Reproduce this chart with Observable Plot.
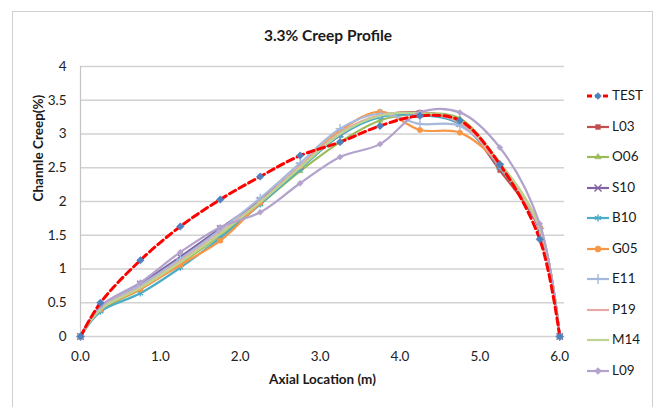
<!DOCTYPE html>
<html>
<head>
<meta charset="utf-8">
<script src="https://cdn.jsdelivr.net/npm/d3@7"></script>
<script src="https://cdn.jsdelivr.net/npm/@observablehq/plot@0.6"></script>
<style>
  html, body { margin: 0; padding: 0; background: #fff; }
  #wrap { position: relative; width: 656px; height: 407px; font-family: Lato, "Open Sans", sans-serif; overflow: hidden; }
  #frame { position: absolute; left: 12px; top: 11px; width: 639px; height: 400px; border-left: 1px solid #d0d0d0; border-top: 1px solid #d0d0d0; border-right: 1px solid #d0d0d0; }
  #title { position: absolute; left: 0; width: 656px; top: 26px; text-align: center; font-size: 15.5px; font-weight: bold; color: #1a1a1a; }
  #legend { position: absolute; left: 586px; top: 87px; font-size: 13.5px; color: #1a1a1a; }
  .li { height: 30.5px; display: flex; align-items: flex-start; }
  .li svg { margin-top: 2px; margin-right: 2px; }
  #plot { position: absolute; left: 0; top: 0; }
</style>
</head>
<body>
<div id="wrap">
  <div id="frame"></div>
  <div id="plot"></div>
  <div id="title">3.3% Creep Profile</div>
  <div id="legend"></div>
</div>
<script>
// Axial positions (m)
const axial = [0, 0.25, 0.75, 1.25, 1.75, 2.25, 2.75, 3.25, 3.75, 4.25, 4.75, 5.25, 5.75, 6.0];

// Series names
const seriesNames = ["TEST", "L03", "O06", "S10", "B10", "G05", "E11", "P19", "M14", "L09"];

// Channel creep (%) per series
const TEST = [0, 0.50, 1.13, 1.63, 2.03, 2.37, 2.68, 2.88, 3.12, 3.27, 3.20, 2.55, 1.44, 0];
const L03  = [0, 0.40, 0.72, 1.10, 1.52, 1.98, 2.50, 2.98, 3.27, 3.32, 3.18, 2.46, 1.58, 0];
const O06  = [0, 0.38, 0.70, 1.08, 1.50, 1.96, 2.45, 2.88, 3.20, 3.30, 3.23, 2.55, 1.60, 0];
const S10  = [0, 0.42, 0.78, 1.18, 1.60, 2.02, 2.52, 3.00, 3.27, 3.30, 3.15, 2.52, 1.58, 0];
const B10  = [0, 0.37, 0.64, 1.02, 1.46, 1.96, 2.48, 2.98, 3.25, 3.28, 3.15, 2.50, 1.60, 0];
const G05  = [0, 0.40, 0.70, 1.06, 1.42, 1.98, 2.52, 3.05, 3.33, 3.06, 3.02, 2.55, 1.62, 0];
const E11  = [0, 0.43, 0.76, 1.15, 1.58, 2.05, 2.57, 3.08, 3.30, 3.15, 3.12, 2.55, 1.60, 0];
const P19  = [0, 0.41, 0.73, 1.12, 1.54, 2.00, 2.52, 3.02, 3.28, 3.30, 3.17, 2.52, 1.60, 0];
const M14  = [0, 0.40, 0.72, 1.10, 1.52, 1.99, 2.50, 3.00, 3.27, 3.31, 3.20, 2.58, 1.62, 0];
const L09  = [0, 0.45, 0.80, 1.25, 1.62, 1.84, 2.27, 2.66, 2.85, 3.32, 3.32, 2.80, 1.67, 0];

// Tick labels
const xTicks = [0, 1, 2, 3, 4, 5, 6];
const yTicks = [0, 0.5, 1, 1.5, 2, 2.5, 3, 3.5, 4];

// Styles
const lineColors = ["#ff0000", "#c0504d", "#9bbb59", "#8064a2", "#4bacc6", "#f79646", "#a5b9dc", "#e6a9a7", "#bcd48f", "#b3a2cb"];
const markColors = ["#4f81bd", "#c0504d", "#9bbb59", "#8064a2", "#4bacc6", "#f79646", "#a5b9dc", null, null, "#b3a2cb"];
const markSymbols = ["diamond2", "square2", "triangle2", "times", "asterisk", "circle", "plus", null, null, "diamond2"];
const values = [TEST, L03, O06, S10, B10, G05, E11, P19, M14, L09];

const data = seriesNames.flatMap((s, i) => axial.map((x, j) => ({series: s, idx: i, x, y: values[i][j]})));

const strokeSyms = new Set(["times", "plus", "asterisk"]);
const marks = [
  Plot.ruleY(yTicks, {stroke: "#d2d2d2", strokeWidth: 1.6}),
  Plot.ruleX([0], {stroke: "#c4c4c4", strokeWidth: 1.2}),
  Plot.axisY(yTicks, {tickSize: 0, tickPadding: 14, fontSize: 13.5, fill: "#222", tickFormat: d => String(d), label: null}),
  Plot.axisX(xTicks, {tickSize: 0, tickPadding: 15, fontSize: 13.5, fill: "#222", tickFormat: d3.format(".1f"), label: null}),
  Plot.text(["Channle Creep(%)"], {frameAnchor: "left", dx: -42, rotate: -90, fontSize: 13.5, fontWeight: "bold", fill: "#1a1a1a"}),
  Plot.text(["Axial Location (m)"], {frameAnchor: "bottom", dy: 47, fontSize: 13.5, fontWeight: "bold", fill: "#1a1a1a"})
];
seriesNames.forEach((s, i) => {
  const d = data.filter(r => r.idx === i);
  if (i === 0) return;
  marks.push(Plot.line(d, {x: "x", y: "y", stroke: lineColors[i], strokeWidth: 2.2, curve: "catmull-rom"}));
  if (markSymbols[i]) {
    const st = strokeSyms.has(markSymbols[i]);
    marks.push(Plot.dot(d, {x: "x", y: "y", symbol: () => markSymbols[i], r: st ? 3 : 2.7,
      fill: st ? "none" : markColors[i], stroke: markColors[i], strokeWidth: st ? 1.4 : 0.5}));
  }
});
{
  const d = data.filter(r => r.idx === 0);
  marks.push(Plot.line(d, {x: "x", y: "y", stroke: lineColors[0], strokeWidth: 3, strokeDasharray: "7,4", curve: "catmull-rom"}));
  marks.push(Plot.dot(d, {x: "x", y: "y", symbol: () => "diamond2", r: 3.4, fill: markColors[0], stroke: markColors[0], strokeWidth: 0.5}));
}

const chart = Plot.plot({
  width: 656,
  height: 407,
  marginLeft: 80,
  marginRight: 92,
  marginTop: 66,
  marginBottom: 71,
  style: {fontFamily: "Lato, 'Open Sans', sans-serif", background: "transparent"},
  x: {domain: [0, 6.06]},
  y: {domain: [0, 4]},
  symbol: {type: "identity"},
  marks
});
document.getElementById("plot").appendChild(chart);

// Legend
const symMap = {diamond2: d3.symbolDiamond2, square2: d3.symbolSquare2, triangle2: d3.symbolTriangle2,
  times: d3.symbolTimes, asterisk: d3.symbolAsterisk, circle: d3.symbolCircle, plus: d3.symbolPlus};
const legend = d3.select("#legend");
seriesNames.forEach((s, i) => {
  const row = legend.append("div").attr("class", "li");
  const svg = row.append("svg").attr("width", 24).attr("height", 14);
  const line = svg.append("line").attr("x1", 1).attr("x2", 23).attr("y1", 7).attr("y2", 7)
    .attr("stroke", lineColors[i]).attr("stroke-width", i === 0 ? 3 : 2.2);
  if (i === 0) line.attr("stroke-dasharray", "5,3");
  if (markSymbols[i]) {
    const st = strokeSyms.has(markSymbols[i]);
    svg.append("path").attr("transform", "translate(12,7)")
      .attr("d", d3.symbol().type(symMap[markSymbols[i]]).size(st ? 34 : 30)())
      .attr("fill", st ? "none" : markColors[i]).attr("stroke", markColors[i]).attr("stroke-width", st ? 1.4 : 0.5);
  }
  row.append("span").text(s);
});
</script>
</body>
</html>
